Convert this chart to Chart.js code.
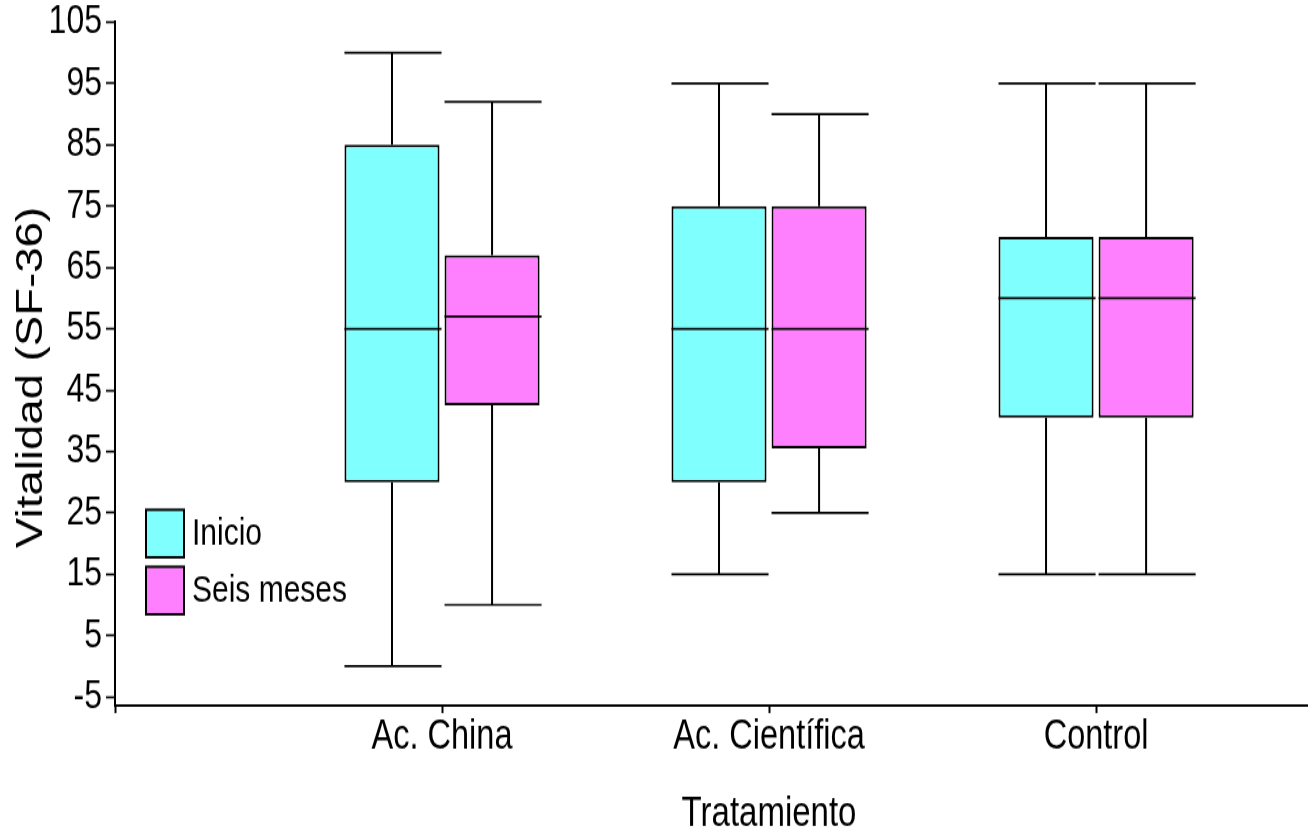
<!DOCTYPE html>
<html>
<head>
<meta charset="utf-8">
<script src="https://cdn.jsdelivr.net/npm/chart.js@4.4.1/dist/chart.umd.min.js"></script>
<style>
  html, body { margin: 0; padding: 0; background: #fff; }
  #page { width: 1315px; height: 836px; overflow: hidden; }
  /* the source figure is stretched vertically (tall, narrow lettering); reproduce that */
  #wrap { width: 1315px; height: 660px; transform: scaleY(1.26667); transform-origin: 0 0; }
</style>
</head>
<body>
<div id="page"><div id="wrap"><canvas id="chart"></canvas></div></div>
<script>
const categories = ['Ac. China', 'Ac. Científica', 'Control'];
const seriesNames = ['Inicio', 'Seis meses'];
const yTicks = [-5, 5, 15, 25, 35, 45, 55, 65, 75, 85, 95, 105];

// Inicio
const inicioMin = [0, 15, 15];
const inicioQ1 = [30, 30, 40.5];
const inicioMedian = [55, 55, 60];
const inicioQ3 = [85, 75, 70];
const inicioMax = [100, 95, 95];

// Seis meses
const seisMin = [10, 25, 15];
const seisQ1 = [42.5, 35.5, 40.5];
const seisMedian = [57, 55, 60];
const seisQ3 = [67, 75, 70];
const seisMax = [92, 90, 95];

const fontFamily = "'Liberation Sans', Arial, sans-serif";
const xLabels = [''].concat(categories);

function boxes(q1, q3) {
    return q1.map((v, i) => ({ x: i + 1, y: [v, q3[i]] }));
}

// whiskers, caps and median lines on top of the floating bars
const boxExtras = {
    id: 'boxExtras',
    afterDatasetsDraw(chart) {
        const ctx = chart.ctx;
        const y = chart.scales.y;
        ctx.save();
        ctx.strokeStyle = '#000';
        chart.data.datasets.forEach((ds, di) => {
            const s = ds.stats;
            chart.getDatasetMeta(di).data.forEach((bar, i) => {
                const half = bar.width / 2;
                const yMax = y.getPixelForValue(s.max[i]);
                const yMin = y.getPixelForValue(s.min[i]);
                const yQ3 = y.getPixelForValue(s.q3[i]);
                const yQ1 = y.getPixelForValue(s.q1[i]);
                const yMed = y.getPixelForValue(s.median[i]);
                ctx.lineWidth = 2;
                ctx.beginPath();
                ctx.moveTo(bar.x, yQ3); ctx.lineTo(bar.x, yMax);
                ctx.moveTo(bar.x, yQ1); ctx.lineTo(bar.x, yMin);
                ctx.stroke();
                ctx.lineWidth = 1.7;
                ctx.beginPath();
                ctx.moveTo(bar.x - half, yMax); ctx.lineTo(bar.x + half + 2, yMax);
                ctx.moveTo(bar.x - half, yMin); ctx.lineTo(bar.x + half + 2, yMin);
                ctx.moveTo(bar.x - half, yMed); ctx.lineTo(bar.x + half + 2, yMed);
                ctx.stroke();
            });
        });
        ctx.restore();
    }
};

// legend inside the plot, lower left
const sideLegend = {
    id: 'sideLegend',
    afterDraw(chart) {
        const { ctx, chartArea } = chart;
        const x0 = chartArea.left + 31;
        const y0 = chartArea.top + 385;
        ctx.save();
        chart.data.datasets.forEach((ds, i) => {
            const top = y0 + i * 45;
            ctx.fillStyle = ds.backgroundColor;
            ctx.fillRect(x0, top, 38, 37.5);
            ctx.strokeStyle = '#000';
            ctx.lineWidth = 2;
            ctx.strokeRect(x0, top, 38, 37.5);
            ctx.fillStyle = '#000';
            ctx.font = '30px ' + fontFamily;
            ctx.textBaseline = 'middle';
            ctx.textAlign = 'left';
            ctx.fillText(ds.label, x0 + 46, top + 19);
        });
        ctx.restore();
    }
};

// axis titles
const axisTitles = {
    id: 'axisTitles',
    afterDraw(chart) {
        const ctx = chart.ctx;
        const x = chart.scales.x;
        ctx.save();
        ctx.fillStyle = '#000';
        ctx.textAlign = 'center';
        ctx.textBaseline = 'middle';
        ctx.font = '33px ' + fontFamily;
        ctx.fillText('Tratamiento', x.getPixelForValue(2), 643);
        ctx.translate(32, 298);
        ctx.rotate(-Math.PI / 2);
        ctx.font = '36px ' + fontFamily;
        ctx.fillText('Vitalidad (SF-36)', 0, 0);
        ctx.restore();
    }
};

const ctx = document.getElementById('chart');
const myChart = new Chart(ctx, {
    type: 'bar',
    data: {
        datasets: [
            {
                label: seriesNames[0],
                data: boxes(inicioQ1, inicioQ3),
                stats: { min: inicioMin, q1: inicioQ1, median: inicioMedian, q3: inicioQ3, max: inicioMax },
                backgroundColor: '#80ffff',
                borderColor: '#000',
                borderWidth: 2,
                borderSkipped: false
            },
            {
                label: seriesNames[1],
                data: boxes(seisQ1, seisQ3),
                stats: { min: seisMin, q1: seisQ1, median: seisMedian, q3: seisQ3, max: seisMax },
                backgroundColor: '#ff80ff',
                borderColor: '#000',
                borderWidth: 2,
                borderSkipped: false
            }
        ]
    },
    options: {
        responsive: true,
        maintainAspectRatio: false,
        animation: false,
        categoryPercentage: 0.612,
        barPercentage: 0.95,
        layout: {
            padding: { left: 0, right: 8, top: 0, bottom: 0 }
        },
        scales: {
            x: {
                type: 'linear',
                offset: false,
                min: 0,
                max: 3.645,
                afterBuildTicks: (scale) => {
                    scale.ticks = [0, 1, 2, 3].map(v => ({ value: v }));
                },
                afterFit: (scale) => { scale.height = 102.6; },
                ticks: {
                    color: '#000',
                    padding: 0,
                    font: { family: fontFamily, size: 32.5, lineHeight: 1.2 },
                    callback: (v) => xLabels[v]
                },
                grid: {
                    offset: false,
                    drawOnChartArea: false,
                    color: '#000',
                    tickLength: 5.5,
                    tickWidth: 2
                },
                border: { color: '#000', width: 2 }
            },
            y: {
                min: -6.5,
                max: 105,
                afterBuildTicks: (scale) => {
                    scale.ticks = yTicks.map(v => ({ value: v }));
                },
                afterFit: (scale) => { scale.width = 115; },
                ticks: {
                    color: '#000',
                    padding: 4,
                    font: { family: fontFamily, size: 32, lineHeight: 0.84 }
                },
                grid: {
                    drawOnChartArea: false,
                    color: '#000',
                    tickLength: 9,
                    tickWidth: 1.7
                },
                border: { color: '#000', width: 2 }
            }
        },
        plugins: {
            legend: { display: false },
            tooltip: { enabled: false },
            title: { display: false }
        }
    },
    plugins: [boxExtras, sideLegend, axisTitles]
});
</script>
</body>
</html>
